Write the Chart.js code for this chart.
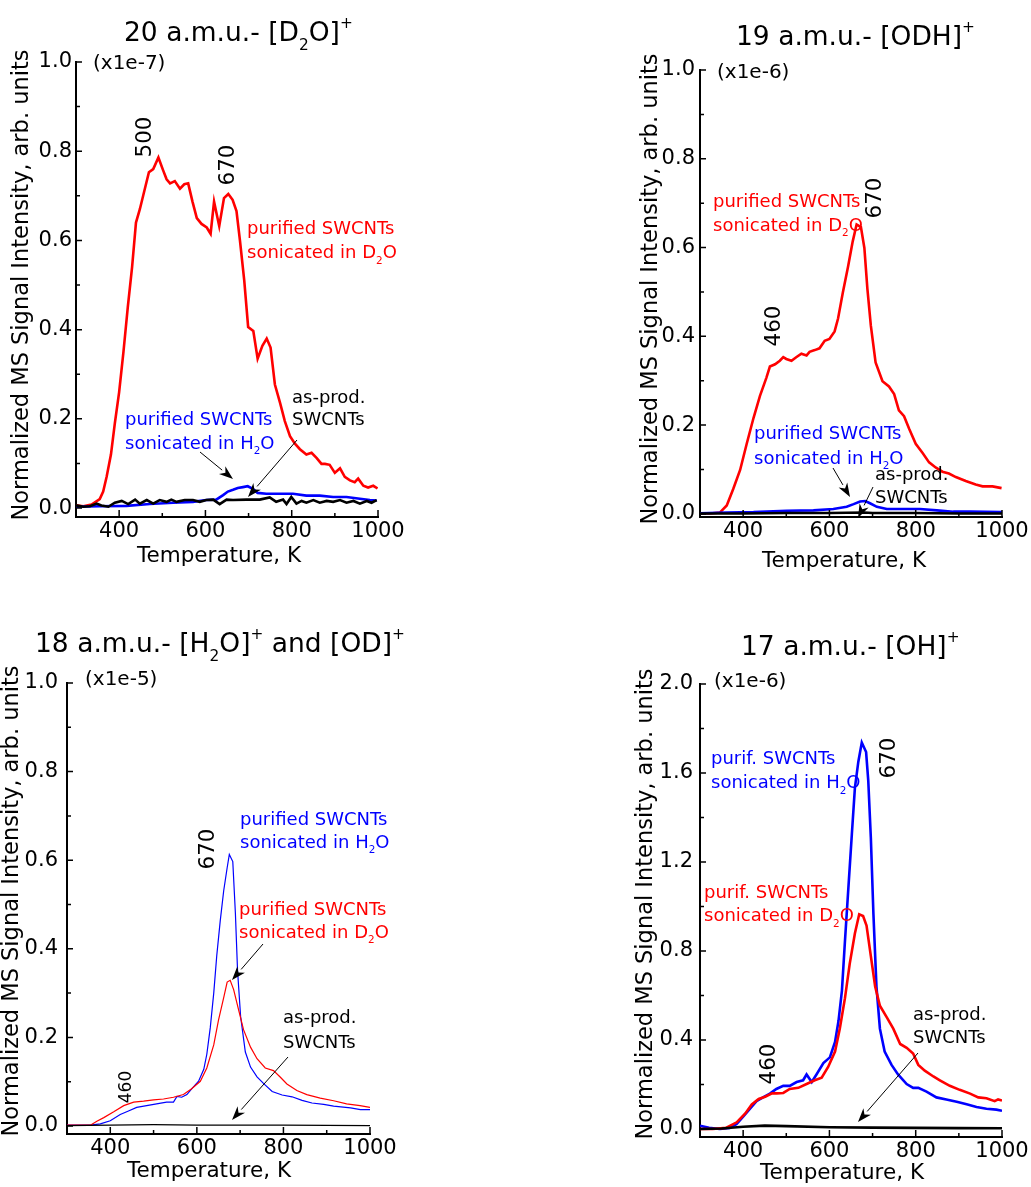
<!DOCTYPE html>
<html>
<head>
<meta charset="utf-8">
<title>TPD mass spectra of SWCNTs</title>
<script src="https://cdn.jsdelivr.net/npm/chart.js@4.4.1/dist/chart.umd.min.js"></script>
<style>
  html, body { margin: 0; padding: 0; background: #fff; }
  #wrap { position: relative; width: 1031px; height: 1187px; overflow: hidden; }
  #wrap canvas { position: absolute; left: 0; top: 0; }
</style>
</head>
<body>
<div id="wrap">
  <canvas id="panel20" width="1031" height="1187"></canvas>
  <canvas id="panel19" width="1031" height="1187"></canvas>
  <canvas id="panel18" width="1031" height="1187"></canvas>
  <canvas id="panel17" width="1031" height="1187"></canvas>
</div>
<script>
// Tick values
const xTickValues = [400, 600, 800, 1000];
const xMinorTicks = [500, 700, 900];
const yTicksUnit = [0, 0.2, 0.4, 0.6, 0.8, 1.0];
const yMinorUnit = [0.1, 0.3, 0.5, 0.7, 0.9];
const yTicksTwo = [0, 0.4, 0.8, 1.2, 1.6, 2.0];
const yMinorTwo = [0.2, 0.6, 1.0, 1.4, 1.8];

// 20 a.m.u. (x1e-7)
const amu20RedT = [300, 317, 336, 355, 363, 371, 381, 390, 400, 410, 420, 430, 439, 448, 469, 479, 491, 502, 510, 518, 529, 541, 551, 560, 570, 580, 591, 603, 612, 620, 632, 643, 653, 663, 672, 680, 690, 699, 711, 721, 732, 742, 751, 761, 773, 784, 796, 807, 819, 834, 846, 858, 869, 877, 888, 900, 912, 923, 935, 946, 954, 966, 977, 989, 999];
const amu20RedV = [0.006, 0.004, 0.008, 0.02, 0.037, 0.07, 0.12, 0.19, 0.26, 0.35, 0.45, 0.54, 0.64, 0.67, 0.753, 0.76, 0.786, 0.757, 0.737, 0.728, 0.733, 0.716, 0.726, 0.728, 0.687, 0.65, 0.637, 0.629, 0.615, 0.687, 0.632, 0.695, 0.704, 0.691, 0.666, 0.6, 0.51, 0.406, 0.397, 0.335, 0.364, 0.38, 0.36, 0.277, 0.236, 0.195, 0.161, 0.145, 0.132, 0.12, 0.124, 0.112, 0.099, 0.099, 0.097, 0.079, 0.089, 0.07, 0.062, 0.058, 0.066, 0.05, 0.046, 0.05, 0.044];
const amu20BlueT = [300, 355, 417, 471, 525, 571, 602, 625, 641, 652, 664, 675, 687, 698, 710, 721, 741, 772, 803, 834, 865, 896, 927, 958, 981, 997];
const amu20BlueV = [0.003, 0.004, 0.005, 0.009, 0.012, 0.014, 0.018, 0.019, 0.029, 0.037, 0.041, 0.045, 0.047, 0.049, 0.043, 0.034, 0.032, 0.032, 0.032, 0.028, 0.028, 0.025, 0.025, 0.021, 0.018, 0.017];
const amu20BlackT = [300, 317, 332, 348, 359, 375, 390, 406, 421, 437, 448, 464, 479, 494, 510, 521, 533, 552, 571, 587, 602, 618, 633, 649, 664, 695, 726, 749, 764, 780, 788, 799, 811, 823, 834, 850, 865, 881, 896, 912, 927, 943, 958, 974, 985, 997];
const amu20BlackV = [0.006, 0.003, 0.004, 0.01, 0.006, 0.003, 0.012, 0.016, 0.009, 0.019, 0.01, 0.018, 0.01, 0.018, 0.014, 0.019, 0.014, 0.018, 0.018, 0.014, 0.018, 0.019, 0.009, 0.019, 0.018, 0.019, 0.019, 0.024, 0.014, 0.019, 0.009, 0.025, 0.01, 0.016, 0.012, 0.018, 0.012, 0.016, 0.014, 0.018, 0.012, 0.016, 0.01, 0.016, 0.012, 0.018];

// 19 a.m.u. (x1e-6)
const amu19RedT = [300, 323, 346, 362, 377, 393, 408, 424, 439, 454, 462, 474, 485, 493, 500, 512, 523, 535, 547, 554, 566, 577, 589, 600, 612, 620, 631, 643, 654, 663, 673, 681, 688, 696, 707, 723, 738, 750, 761, 773, 785, 800, 816, 831, 847, 862, 877, 893, 916, 939, 955, 978, 999];
const amu19RedV = [0.001, 0.001, 0.003, 0.019, 0.056, 0.099, 0.157, 0.216, 0.266, 0.307, 0.332, 0.337, 0.345, 0.353, 0.349, 0.345, 0.353, 0.361, 0.357, 0.365, 0.369, 0.373, 0.39, 0.394, 0.411, 0.44, 0.498, 0.556, 0.614, 0.652, 0.646, 0.599, 0.507, 0.424, 0.341, 0.299, 0.287, 0.27, 0.233, 0.22, 0.191, 0.158, 0.137, 0.116, 0.104, 0.095, 0.091, 0.083, 0.074, 0.066, 0.062, 0.062, 0.058];
const amu19BlueT = [300, 362, 424, 501, 563, 609, 640, 656, 671, 683, 694, 710, 733, 771, 810, 849, 887, 926, 1000];
const amu19BlueV = [0.0015, 0.003, 0.004, 0.007, 0.008, 0.011, 0.016, 0.022, 0.028, 0.029, 0.024, 0.016, 0.011, 0.011, 0.011, 0.008, 0.005, 0.005, 0.004];
const amu19BlackT = [300, 400, 500, 600, 680, 700, 800, 900, 1000];
const amu19BlackV = [0.001, 0.001, 0.002, 0.002, 0.003, 0.002, 0.002, 0.001, 0.001];

// 18 a.m.u. (x1e-5)
const amu18BlueT = [300, 354, 377, 400, 423, 442, 461, 484, 507, 530, 546, 554, 565, 577, 588, 604, 616, 623, 631, 639, 646, 654, 662, 670, 675, 683, 689, 694, 701, 712, 724, 739, 755, 774, 797, 820, 843, 866, 893, 916, 955, 978, 1000];
const amu18BlueV = [0.002, 0.002, 0.005, 0.012, 0.026, 0.034, 0.042, 0.046, 0.05, 0.054, 0.054, 0.067, 0.065, 0.071, 0.084, 0.101, 0.128, 0.162, 0.222, 0.3, 0.385, 0.463, 0.531, 0.583, 0.613, 0.597, 0.481, 0.351, 0.248, 0.167, 0.133, 0.111, 0.095, 0.078, 0.07, 0.066, 0.058, 0.052, 0.049, 0.045, 0.041, 0.037, 0.037];
const amu18RedT = [300, 354, 369, 385, 408, 431, 454, 477, 500, 523, 546, 569, 588, 608, 623, 639, 650, 662, 670, 677, 685, 697, 708, 724, 739, 758, 777, 793, 808, 831, 854, 885, 916, 946, 977, 1000];
const amu18RedV = [0.002, 0.002, 0.011, 0.019, 0.032, 0.046, 0.054, 0.056, 0.059, 0.061, 0.065, 0.071, 0.084, 0.101, 0.131, 0.183, 0.239, 0.29, 0.325, 0.329, 0.308, 0.26, 0.217, 0.178, 0.152, 0.131, 0.125, 0.11, 0.095, 0.08, 0.071, 0.063, 0.057, 0.05, 0.046, 0.042];
const amu18BlackT = [300, 400, 500, 600, 700, 800, 1000];
const amu18BlackV = [0.001, 0.002, 0.003, 0.002, 0.002, 0.002, 0.001];

// 17 a.m.u. (x1e-6)
const amu17BlueT = [300, 321, 346, 369, 385, 400, 416, 431, 446, 462, 477, 493, 508, 524, 539, 547, 559, 570, 586, 601, 613, 621, 629, 636, 644, 652, 659, 667, 675, 685, 690, 696, 702, 709, 717, 728, 744, 759, 779, 794, 806, 825, 848, 871, 895, 918, 941, 964, 987, 1000];
const amu17BlueV = [0.015, 0.005, 0.0, 0.005, 0.022, 0.056, 0.091, 0.125, 0.142, 0.159, 0.18, 0.194, 0.194, 0.211, 0.219, 0.245, 0.211, 0.245, 0.296, 0.322, 0.391, 0.485, 0.622, 0.845, 1.086, 1.326, 1.532, 1.651, 1.737, 1.694, 1.566, 1.309, 0.965, 0.64, 0.451, 0.348, 0.288, 0.245, 0.202, 0.185, 0.185, 0.168, 0.142, 0.133, 0.122, 0.111, 0.099, 0.091, 0.087, 0.082];
const amu17RedT = [300, 329, 360, 385, 405, 420, 436, 451, 467, 478, 493, 508, 528, 547, 566, 582, 597, 613, 624, 636, 647, 659, 669, 678, 686, 696, 706, 717, 733, 748, 764, 779, 794, 806, 821, 841, 856, 879, 902, 926, 945, 964, 983, 991, 1000];
const amu17RedV = [0.0, 0.0, 0.005, 0.03, 0.07, 0.11, 0.135, 0.145, 0.16, 0.16, 0.162, 0.18, 0.185, 0.202, 0.219, 0.231, 0.279, 0.348, 0.451, 0.588, 0.742, 0.879, 0.965, 0.957, 0.914, 0.777, 0.64, 0.554, 0.502, 0.451, 0.382, 0.365, 0.339, 0.288, 0.262, 0.236, 0.219, 0.194, 0.176, 0.159, 0.142, 0.138, 0.125, 0.133, 0.128];
const amu17BlackT = [300, 350, 400, 450, 500, 600, 700, 800, 900, 1000];
const amu17BlackV = [0.0, 0.002, 0.01, 0.015, 0.013, 0.008, 0.006, 0.005, 0.004, 0.003];

const RED = '#ff0000';
const BLUE = '#0000ff';
const BLACK = '#000000';
const FONT = '"DejaVu Sans", "Liberation Sans", sans-serif';

function toPoints(ts, vs) {
  return ts.map((t, i) => ({ x: t, y: vs[i] }));
}

// Split "D_{2}O^{+}" into normal / sub / sup runs
function richParts(str) {
  const out = [];
  const re = /([_^])\{([^}]*)\}/g;
  let last = 0, m;
  while ((m = re.exec(str))) {
    if (m.index > last) out.push({ t: str.slice(last, m.index), k: 'n' });
    out.push({ t: m[2], k: m[1] === '_' ? 'sub' : 'sup' });
    last = re.lastIndex;
  }
  if (last < str.length) out.push({ t: str.slice(last), k: 'n' });
  return out;
}

function drawRich(ctx, str, x, baseline, size, color) {
  ctx.fillStyle = color;
  ctx.textAlign = 'left';
  ctx.textBaseline = 'alphabetic';
  let cx = x;
  richParts(str).forEach(p => {
    const s = p.k === 'n' ? size : size * 0.58;
    const dy = p.k === 'sub' ? size * 0.33 : (p.k === 'sup' ? -size * 0.5 : 0);
    ctx.font = `${s}px ${FONT}`;
    ctx.fillText(p.t, cx, baseline + dy);
    cx += ctx.measureText(p.t).width;
  });
}

function drawRotated(ctx, text, cx, cy, size) {
  ctx.save();
  ctx.translate(cx, cy);
  ctx.rotate(-Math.PI / 2);
  ctx.font = `${size}px ${FONT}`;
  ctx.fillStyle = BLACK;
  ctx.textAlign = 'center';
  ctx.textBaseline = 'middle';
  ctx.fillText(text, 0, 0);
  ctx.restore();
}

function drawArrow(ctx, x1, y1, x2, y2) {
  const ang = Math.atan2(y2 - y1, x2 - x1);
  const len = 14, half = 5;
  const bx = x2 - len * Math.cos(ang), by = y2 - len * Math.sin(ang);
  ctx.strokeStyle = BLACK;
  ctx.lineWidth = 1;
  ctx.beginPath();
  ctx.moveTo(x1, y1);
  ctx.lineTo(bx, by);
  ctx.stroke();
  ctx.fillStyle = BLACK;
  ctx.beginPath();
  ctx.moveTo(x2, y2);
  ctx.lineTo(bx + half * Math.sin(ang), by - half * Math.cos(ang));
  ctx.lineTo(x2 - len * 0.7 * Math.cos(ang), y2 - len * 0.7 * Math.sin(ang));
  ctx.lineTo(bx - half * Math.sin(ang), by + half * Math.cos(ang));
  ctx.closePath();
  ctx.fill();
}

// Inner ticks, titles and annotations
function decorPlugin(p) {
  return {
    id: 'decor',
    afterDraw(chart) {
      const ctx = chart.ctx;
      const xs = chart.scales.x, ys = chart.scales.y;
      const area = chart.chartArea;
      ctx.save();
      ctx.strokeStyle = BLACK;
      ctx.lineWidth = 1.5;
      ctx.beginPath();
      xTickValues.forEach(v => { const px = xs.getPixelForValue(v); ctx.moveTo(px, area.bottom); ctx.lineTo(px, area.bottom - 7); });
      xMinorTicks.forEach(v => { const px = xs.getPixelForValue(v); ctx.moveTo(px, area.bottom); ctx.lineTo(px, area.bottom - 4); });
      p.yTicks.forEach(v => { const py = ys.getPixelForValue(v); ctx.moveTo(area.left, py); ctx.lineTo(area.left + 6, py); });
      p.yMinor.forEach(v => { const py = ys.getPixelForValue(v); ctx.moveTo(area.left, py); ctx.lineTo(area.left + 4, py); });
      ctx.stroke();

      drawRich(ctx, p.title.text, p.title.x, p.title.y, 26.5, BLACK);
      drawRich(ctx, p.units.text, p.units.x, p.units.cy + 7, 20, BLACK);
      drawRotated(ctx, 'Normalized MS Signal Intensity, arb. units', p.yTitle.cx, p.yTitle.cy, 22.5);

      ctx.font = `21.5px ${FONT}`;
      ctx.fillStyle = BLACK;
      ctx.textAlign = 'center';
      ctx.textBaseline = 'middle';
      ctx.fillText('Temperature, K', p.xTitle.cx, p.xTitle.cy);

      p.peaks.forEach(k => drawRotated(ctx, k.text, k.cx, k.cy, k.size || 21.5));
      p.notes.forEach(n => drawRich(ctx, n.text, n.x, n.cy + 6.5, 18, n.color));
      p.arrows.forEach(a => drawArrow(ctx, a[0], a[1], a[2], a[3]));
      ctx.restore();
    }
  };
}

function createPanel(canvasId, p) {
  const ctx = document.getElementById(canvasId).getContext('2d');
  const W = 1031, H = 1187, yW = 50, xH = 40;
  const tickFont = { family: FONT, size: 21 };
  return new Chart(ctx, {
    type: 'line',
    data: {
      datasets: p.series.map(s => ({
        data: toPoints(s.t, s.v),
        borderColor: s.color,
        borderWidth: p.lineWidth,
        pointRadius: 0,
        tension: 0,
        fill: false
      }))
    },
    options: {
      responsive: false,
      animation: false,
      devicePixelRatio: 1,
      events: [],
      layout: {
        padding: { left: p.area.left - yW, top: p.area.top, right: W - p.area.right, bottom: H - p.area.bottom - xH }
      },
      plugins: { legend: { display: false }, tooltip: { enabled: false } },
      scales: {
        x: {
          type: 'linear',
          min: 300,
          max: 1000,
          afterFit: s => { s.height = xH; },
          afterBuildTicks: s => { s.ticks = xTickValues.map(v => ({ value: v })); },
          grid: { display: false, drawTicks: false },
          border: { display: true, color: BLACK, width: 2 },
          ticks: { color: BLACK, font: tickFont, padding: 2, maxRotation: 0, autoSkip: false, callback: v => String(v) }
        },
        y: {
          type: 'linear',
          min: p.yMin,
          max: p.yMax,
          afterFit: s => { s.width = yW; },
          afterBuildTicks: s => { s.ticks = p.yTicks.map(v => ({ value: v })); },
          grid: { display: false, drawTicks: false },
          border: { display: true, color: BLACK, width: 2 },
          ticks: { color: BLACK, font: tickFont, padding: p.yLabelPad, autoSkip: false, callback: v => v.toFixed(1) }
        }
      }
    },
    plugins: [decorPlugin(p)]
  });
}

createPanel('panel20', {
  area: { left: 76, right: 378, top: 62, bottom: 517 },
  yMin: -0.02, yMax: 1.0, yTicks: yTicksUnit, yMinor: yMinorUnit, yLabelPad: 4,
  lineWidth: 2.6,
  series: [
    { t: amu20BlackT, v: amu20BlackV, color: BLACK },
    { t: amu20BlueT, v: amu20BlueV, color: BLUE },
    { t: amu20RedT, v: amu20RedV, color: RED }
  ],
  title: { text: '20 a.m.u.- [D_{2}O]^{+}', x: 124, y: 41 },
  units: { text: '(x1e-7)', x: 93, cy: 62 },
  yTitle: { cx: 22, cy: 285 },
  xTitle: { cx: 219, cy: 556 },
  peaks: [{ text: '500', cx: 145, cy: 137 }, { text: '670', cx: 228, cy: 165 }],
  notes: [
    { text: 'purified SWCNTs', x: 247, cy: 227.5, color: RED },
    { text: 'sonicated in D_{2}O', x: 247, cy: 251.5, color: RED },
    { text: 'purified SWCNTs', x: 125, cy: 418, color: BLUE },
    { text: 'sonicated in H_{2}O', x: 125, cy: 442, color: BLUE },
    { text: 'as-prod.', x: 292, cy: 396, color: BLACK },
    { text: 'SWCNTs', x: 292, cy: 418, color: BLACK }
  ],
  arrows: [[200, 452, 233, 479], [297, 440, 248, 497]]
});

createPanel('panel19', {
  area: { left: 700, right: 1002, top: 70, bottom: 517 },
  yMin: -0.007, yMax: 1.0, yTicks: yTicksUnit, yMinor: yMinorUnit, yLabelPad: 5,
  lineWidth: 2.6,
  series: [
    { t: amu19BlackT, v: amu19BlackV, color: BLACK },
    { t: amu19BlueT, v: amu19BlueV, color: BLUE },
    { t: amu19RedT, v: amu19RedV, color: RED }
  ],
  title: { text: '19 a.m.u.- [ODH]^{+}', x: 736, y: 45 },
  units: { text: '(x1e-6)', x: 717, cy: 71 },
  yTitle: { cx: 651, cy: 289 },
  xTitle: { cx: 844, cy: 561 },
  peaks: [{ text: '670', cx: 875, cy: 198 }, { text: '460', cx: 774, cy: 326 }],
  notes: [
    { text: 'purified SWCNTs', x: 713, cy: 200, color: RED },
    { text: 'sonicated in D_{2}O', x: 713, cy: 224, color: RED },
    { text: 'purified SWCNTs', x: 754, cy: 432, color: BLUE },
    { text: 'sonicated in H_{2}O', x: 754, cy: 457, color: BLUE },
    { text: 'as-prod.', x: 875, cy: 473.5, color: BLACK },
    { text: 'SWCNTs', x: 875, cy: 496, color: BLACK }
  ],
  arrows: [[833, 468, 850, 497], [873, 487, 858, 518]]
});

createPanel('panel18', {
  area: { left: 67, right: 370, top: 683, bottom: 1134 },
  yMin: -0.018, yMax: 1.0, yTicks: yTicksUnit, yMinor: yMinorUnit, yLabelPad: 9,
  lineWidth: 1.2,
  series: [
    { t: amu18BlackT, v: amu18BlackV, color: BLACK },
    { t: amu18RedT, v: amu18RedV, color: RED },
    { t: amu18BlueT, v: amu18BlueV, color: BLUE }
  ],
  title: { text: '18 a.m.u.- [H_{2}O]^{+} and [OD]^{+}', x: 35, y: 652 },
  units: { text: '(x1e-5)', x: 85, cy: 678 },
  yTitle: { cx: 12, cy: 901 },
  xTitle: { cx: 209, cy: 1171 },
  peaks: [{ text: '670', cx: 208, cy: 849 }, { text: '460', cx: 127, cy: 1087, size: 17 }],
  notes: [
    { text: 'purified SWCNTs', x: 240, cy: 818.5, color: BLUE },
    { text: 'sonicated in H_{2}O', x: 240, cy: 841, color: BLUE },
    { text: 'purified SWCNTs', x: 239, cy: 908, color: RED },
    { text: 'sonicated in D_{2}O', x: 239, cy: 931, color: RED },
    { text: 'as-prod.', x: 283, cy: 1016.5, color: BLACK },
    { text: 'SWCNTs', x: 283, cy: 1041, color: BLACK }
  ],
  arrows: [[263, 944, 232, 980], [288, 1057, 232, 1120]]
});

createPanel('panel17', {
  area: { left: 700, right: 1002, top: 684, bottom: 1137 },
  yMin: -0.036, yMax: 2.0, yTicks: yTicksTwo, yMinor: yMinorTwo, yLabelPad: 7,
  lineWidth: 2.6,
  series: [
    { t: amu17BlackT, v: amu17BlackV, color: BLACK },
    { t: amu17RedT, v: amu17RedV, color: RED },
    { t: amu17BlueT, v: amu17BlueV, color: BLUE }
  ],
  title: { text: '17 a.m.u.- [OH]^{+}', x: 741, y: 655 },
  units: { text: '(x1e-6)', x: 714, cy: 680 },
  yTitle: { cx: 646, cy: 904 },
  xTitle: { cx: 842, cy: 1173 },
  peaks: [{ text: '670', cx: 889, cy: 758 }, { text: '460', cx: 769, cy: 1064 }],
  notes: [
    { text: 'purif. SWCNTs', x: 711, cy: 757.6, color: BLUE },
    { text: 'sonicated in H_{2}O', x: 711, cy: 781.5, color: BLUE },
    { text: 'purif. SWCNTs', x: 704, cy: 891, color: RED },
    { text: 'sonicated in D_{2}O', x: 704, cy: 914.5, color: RED },
    { text: 'as-prod.', x: 913, cy: 1013.5, color: BLACK },
    { text: 'SWCNTs', x: 913, cy: 1036, color: BLACK }
  ],
  arrows: [[918, 1053, 858, 1122]]
});
</script>
</body>
</html>
